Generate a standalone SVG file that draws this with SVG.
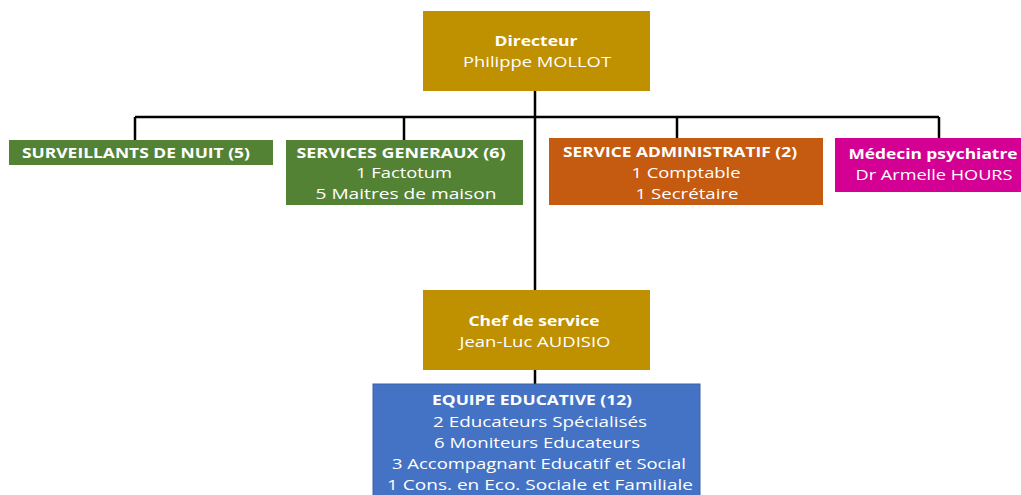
<svg xmlns="http://www.w3.org/2000/svg" width="1021" height="495" viewBox="0 0 1021 495">
<style>
text{font-family:"Open Sans","Liberation Sans",sans-serif;fill:#fff;text-anchor:middle;font-size:15px}
.b{font-weight:bold;font-size:14.5px}
.c{fill:none;stroke:#000;stroke-width:2.5}
</style>
<rect width="1021" height="495" fill="#fff"/>
<g id="connectors">
<path class="c" d="M535 91V290M135 117H939M135 117V140M404 117V140M677 117V138M939 117V138M535 370V384"/>
</g>
<g id="directeur">
<rect x="423" y="11" width="227" height="80" fill="#BF9000"/>
<text x="536" y="46" class="b" textLength="83" lengthAdjust="spacingAndGlyphs">Directeur</text>
<text x="537" y="67" textLength="148" lengthAdjust="spacingAndGlyphs">Philippe MOLLOT</text>
</g>
<g id="surveillants">
<rect x="9" y="140" width="264" height="25" fill="#548235"/>
<text x="136" y="158" class="b" textLength="228" lengthAdjust="spacingAndGlyphs">SURVEILLANTS DE NUIT (5)</text>
</g>
<g id="services-generaux">
<rect x="286" y="140" width="237" height="65" fill="#548235"/>
<text x="401" y="158" class="b" textLength="209" lengthAdjust="spacingAndGlyphs">SERVICES  GENERAUX (6)</text>
<text x="404" y="178" textLength="96" lengthAdjust="spacingAndGlyphs">1 Factotum</text>
<text x="406" y="199" textLength="181" lengthAdjust="spacingAndGlyphs">5 Maitres de maison</text>
</g>
<g id="service-administratif">
<rect x="549" y="138" width="274" height="67" fill="#C55A11"/>
<text x="680" y="157" class="b" textLength="234" lengthAdjust="spacingAndGlyphs">SERVICE ADMINISTRATIF (2)</text>
<text x="686" y="178" textLength="109" lengthAdjust="spacingAndGlyphs">1 Comptable</text>
<text x="687" y="199" textLength="103" lengthAdjust="spacingAndGlyphs">1 Secrétaire</text>
</g>
<g id="medecin">
<rect x="835" y="138" width="186" height="54" fill="#D40094"/>
<text x="933" y="159" class="b" textLength="169" lengthAdjust="spacingAndGlyphs">Médecin psychiatre</text>
<text x="934" y="180" textLength="157" lengthAdjust="spacingAndGlyphs">Dr Armelle HOURS</text>
</g>
<g id="chef">
<rect x="423" y="290" width="227" height="80" fill="#BF9000"/>
<text x="534" y="326" class="b" textLength="131" lengthAdjust="spacingAndGlyphs">Chef de service</text>
<text x="535" y="347" textLength="151" lengthAdjust="spacingAndGlyphs">Jean-Luc AUDISIO</text>
</g>
<g id="equipe">
<rect x="373" y="384" width="327" height="115" fill="#4472C4" stroke="#3A62A8" stroke-width="1"/>
<text x="532" y="405" class="b" textLength="200" lengthAdjust="spacingAndGlyphs">EQUIPE EDUCATIVE (12)</text>
<text x="540" y="427" textLength="214" lengthAdjust="spacingAndGlyphs">2 Educateurs Spécialisés</text>
<text x="537" y="448" textLength="206" lengthAdjust="spacingAndGlyphs">6 Moniteurs Educateurs</text>
<text x="539" y="469" textLength="294" lengthAdjust="spacingAndGlyphs">3 Accompagnant Educatif et Social</text>
<text x="540" y="490" textLength="306" lengthAdjust="spacingAndGlyphs">1 Cons. en Eco. Sociale et Familiale</text>
</g>
</svg>
